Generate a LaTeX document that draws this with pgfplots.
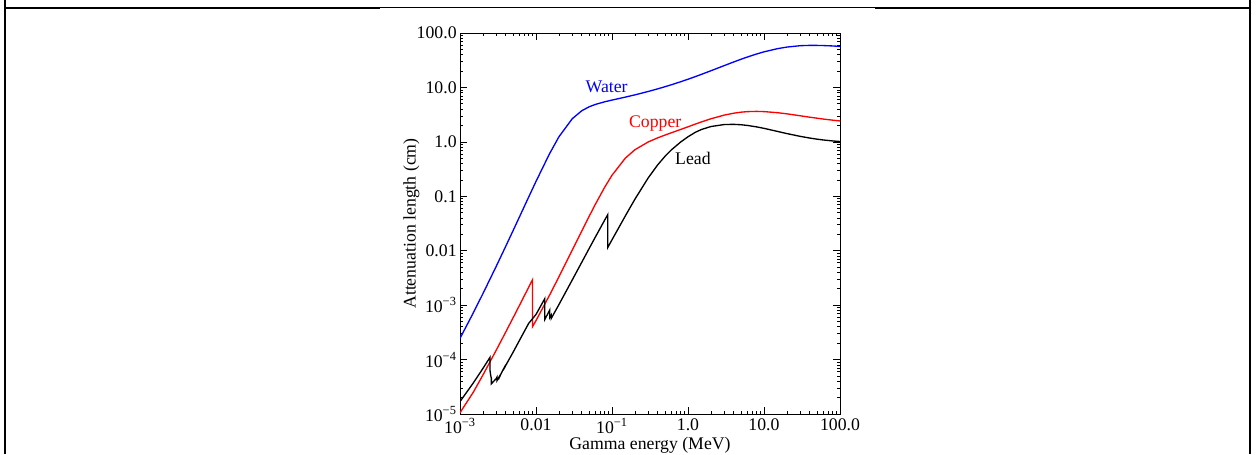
\documentclass[border=0pt]{standalone}
\usepackage{fontspec}
\setmainfont{Liberation Serif}
\usepackage{pgfplots}
\pgfplotsset{compat=1.18}
\begin{document}
\begin{tikzpicture}
\path[use as bounding box] (0pt,0pt) rectangle (942.75pt,340.5pt);
% page frame
\begin{scope}[x=0.75pt,y=0.75pt]
\draw[line width=1.5pt] (5,454) -- (5,446) -- (380,446);
\draw[line width=0.5pt] (380,447) -- (875,447);
\draw[line width=1.5pt] (875,446) -- (1250,446) -- (1250,454);
\draw[line width=1.5pt] (5,446) -- (5,0);
\draw[line width=1.5pt] (1250,446) -- (1250,0);
\end{scope}
\begin{axis}[
  at={(345pt,30pt)}, anchor=south west,
  scale only axis, width=285pt, height=285.75pt,
  xmode=log, ymode=log,
  xmin=1e-3, xmax=100, ymin=1e-5, ymax=100,
  axis line style={line width=0.5pt},
  tick align=inside, ticks=both,
  xtick pos=both, ytick pos=both,
  major tick length=5pt, minor tick length=2.6pt,
  every tick/.style={line width=0.5pt, black},
  xtick={1e-3,1e-2,1e-1,1,10,100},
  xticklabels={10\textsuperscript{−3},0.01,10\textsuperscript{−1},1.0,10.0,100.0},
  ytick={1e-5,1e-4,1e-3,1e-2,1e-1,1,10,100},
  yticklabels={10\textsuperscript{−5},10\textsuperscript{−4},10\textsuperscript{−3},0.01,0.1,1.0,10.0,100.0},
  ticklabel style={font=\fontsize{13.3}{15}\selectfont},
  xticklabel style={yshift=0pt},
  yticklabel style={xshift=1pt},
  label style={font=\fontsize{13.3}{15}\selectfont},
  xlabel={Gamma energy (MeV)},
  ylabel={Attenuation length (cm)},
  xlabel style={yshift=4.5pt},
  ylabel style={yshift=-9pt},
  clip=true,
]
% Water
\addplot[blue, line width=1pt] coordinates {
(1e-3,2.4522e-4) (1.5e-3,7.2674e-4) (2e-3,1.6200e-3) (3e-3,5.1840e-3)
(4e-3,1.2080e-2) (5e-3,2.3485e-2) (6e-3,4.0584e-2) (8e-3,9.6432e-2)
(1e-2,0.18765) (1.5e-2,0.59773) (2e-2,1.2352) (3e-2,2.6624)
(4e-2,3.7272) (5e-2,4.4072) (6e-2,4.8567) (8e-2,5.4437)
(0.1,5.8582) (0.15,6.6445) (0.2,7.2993) (0.3,8.4317) (0.4,9.4251)
(0.5,10.323) (0.6,11.166) (0.8,12.715) (1,14.140) (1.25,15.815)
(1.5,17.379) (2,20.235) (3,25.195) (4,29.386) (5,32.992) (6,36.101)
(8,41.169) (10,45.065) (15,51.520) (20,55.157) (30,58.480) (40,59.277)
(50,59.172) (60,58.824) (80,57.837) (100,56.625)
};
% Copper
\addplot[red, line width=1pt] coordinates {
(1e-3,1.0559e-5) (1.5e-3,2.526e-5) (2e-3,5.181e-5) (3e-3,1.4905e-4)
(4e-3,3.2136e-4) (5e-3,5.877e-4) (6e-3,9.655e-4) (8e-3,2.1238e-3)
(8.9789e-3,2.9148e-3) (8.9789e-3,4.0088e-4) (1e-2,5.196e-4)
(1.5e-2,1.5062e-3) (2e-2,3.303e-3) (3e-2,1.0221e-2) (4e-2,2.2955e-2)
(5e-2,4.271e-2) (6e-2,7.006e-2) (8e-2,0.14627) (0.1,0.24347)
(0.15,0.5034) (0.2,0.7159) (0.3,0.9974) (0.4,1.1857) (0.5,1.3347)
(0.6,1.4637) (0.8,1.6897) (1,1.8913) (1.25,2.1214) (1.5,2.3237)
(2,2.6542) (3,3.1010) (4,3.3637) (5,3.5130) (6,3.5909) (8,3.6307)
(10,3.5967) (15,3.4372) (20,3.2749) (30,3.0140) (40,2.8391)
(50,2.7201) (60,2.6260) (80,2.5035) (100,2.4210)
};
% Lead
\addplot[black, line width=1pt] coordinates {
(1e-3,1.6911e-5) (1.5e-3,3.7396e-5) (2e-3,6.8565e-5) (2.484e-3,1.1005e-4)
(2.484e-3,6.3068e-5) (2.53429e-3,5.1046e-5) (2.5856e-3,4.5322e-5)
(2.5856e-3,3.5845e-5) (3e-3,4.4838e-5) (3.0664e-3,4.7446e-5)
(3.0664e-3,4.1056e-5) (3.3013e-3,4.9056e-5) (3.3013e-3,4.7267e-5)
(3.5542e-3,5.8894e-5) (3.8507e-3,7.2633e-5) (3.8507e-3,7.0653e-5)
(4e-3,7.8246e-5) (5e-3,1.3677e-4) (6e-3,2.1950e-4) (8e-3,4.6153e-4)
(1e-2,6.7463e-4) (1.30352e-2,1.3148e-3) (1.30352e-2,5.4353e-4)
(1.5e-2,7.8947e-4) (1.52e-2,8.1730e-4) (1.52e-2,5.9330e-4)
(1.55269e-2,6.2222e-4) (1.58608e-2,6.5556e-4) (1.58608e-2,5.6916e-4)
(2e-2,1.0202e-3) (3e-2,2.9059e-3) (4e-2,6.1354e-3) (5e-2,1.0957e-2)
(6e-2,1.7547e-2) (8e-2,3.6422e-2) (8.80045e-2,4.6128e-2)
(8.80045e-2,1.1468e-2) (0.1,1.5878e-2) (0.15,4.3746e-2) (0.2,8.8238e-2)
(0.3,0.21857) (0.4,0.37928) (0.5,0.54589) (0.6,0.70597) (0.8,0.99330)
(1,1.2406) (1.25,1.4994) (1.5,1.6872) (2,1.9128) (3,2.0809) (4,2.0993)
(5,2.0624) (6,2.0065) (8,1.8846) (10,1.7721) (15,1.5572) (20,1.4197)
(30,1.2615) (40,1.1747) (50,1.1205) (60,1.0837) (80,1.0395) (100,1.0143)
};
\node[blue, font=\fontsize{13.3}{15}\selectfont] at (axis cs:0.085,10.2) {Water};
\node[red, font=\fontsize{13.3}{15}\selectfont] at (axis cs:0.37,2.2) {Copper};
\node[black, font=\fontsize{13.3}{15}\selectfont] at (axis cs:1.16,0.5) {Lead};
\end{axis}
\end{tikzpicture}
\end{document}
